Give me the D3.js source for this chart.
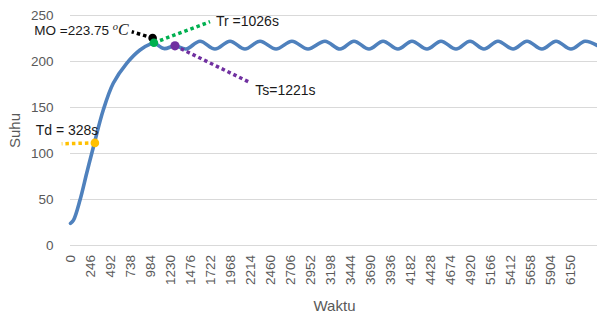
<!DOCTYPE html>
<html><head><meta charset="utf-8">
<script src="https://cdn.jsdelivr.net/npm/d3@7"></script>
<style>body{margin:0;background:#fff}svg{display:block}</style>
</head><body><svg id="c" width="597" height="318"></svg>
<script>
// ---- data ----
const waktu = [0,37,117,199,280,403,526,691,855,999,1026,1150,1285,1421,1593,1777,1962,2146,2331,2528,2724,2921,3130,3315,3487,3672,3844,4028,4200,4385,4557,4742,4914,5086,5258,5443,5615,5799,5972,6156,6328,6476];
const suhu  = [23.5,27,48.9,78,106,146.7,175.8,197.5,212,219.2,219.8,213.5,216.5,213,221.5,213,221.5,213,221.5,213,221.5,213,221.5,213,221.5,213,221.5,213,221.5,213,221.5,213,221.5,213,221.5,213,221.5,213,221.5,213,221.5,217];
const xTickLabels = [0,246,492,738,984,1230,1476,1722,1968,2214,2460,2706,2952,3198,3444,3690,3936,4182,4428,4674,4920,5166,5412,5658,5904,6150];
const yTickLabels = [0,50,100,150,200,250];

// annotation points: marker (t,v), line other end (t2,v2)
const annNames  = ["MO","Tr","Ts","Td"];
const annText   = ["MO =223.75 ","Tr =1026s","Ts=1221s","Td = 328s"];
const annT      = [1010,1026,1285,300];
const annV      = [225,219.8,216.5,111];
const annT2     = [753,1716,2187,-108];
const annV2     = [231.8,242.7,177.5,110];
const annColor  = ["#000000","#00b050","#7030a0","#ffc000"];

// ---- layout ----
const svg = d3.select("#c");
const x = d3.scaleLinear().domain([0,6476]).range([70.5,597]);
const y = d3.scaleLinear().domain([0,250]).range([245,15]);
const FONT = "Liberation Sans, Arial, sans-serif";

// gridlines
svg.append("g").selectAll("line").data(yTickLabels).join("line")
  .attr("x1",70).attr("x2",597)
  .attr("y1",d=>y(d)+0.5).attr("y2",d=>y(d)+0.5)
  .attr("stroke","#d9d9d9").attr("stroke-width",1);

// y labels
svg.append("g").selectAll("text").data(yTickLabels).join("text")
  .attr("x",53.5).attr("y",d=>y(d)).attr("dy","0.35em")
  .attr("text-anchor","end")
  .attr("font-family",FONT)
  .attr("font-size",13.5).attr("fill","#595959")
  .text(d=>d);

// x labels (rotated)
svg.append("g").selectAll("text").data(xTickLabels).join("text")
  .attr("transform",d=>`translate(${x(d)},255) rotate(-90)`)
  .attr("text-anchor","end").attr("dy","0.35em")
  .attr("font-family",FONT)
  .attr("font-size",13.5).attr("fill","#595959")
  .text(d=>d);

// axis titles
svg.append("text").attr("x",334.5).attr("y",311).attr("text-anchor","middle")
  .attr("font-family",FONT).attr("font-size",15).attr("fill","#595959")
  .text("Waktu");
svg.append("text").attr("transform","translate(20,130.5) rotate(-90)").attr("text-anchor","middle")
  .attr("font-family",FONT).attr("font-size",15).attr("fill","#595959")
  .text("Suhu");

// line
svg.append("clipPath").attr("id","clp").append("rect").attr("x",60).attr("y",0).attr("width",537).attr("height",318);
const pts = waktu.map((t,i)=>[t,suhu[i]]);
svg.append("path").datum(pts)
  .attr("clip-path","url(#clp)")
  .attr("fill","none").attr("stroke","#4f81bd").attr("stroke-width",3.6)
  .attr("stroke-linecap","round").attr("stroke-linejoin","round")
  .attr("d",d3.line().x(d=>x(d[0])).y(d=>y(d[1])).curve(d3.curveCatmullRom.alpha(0.5)));

// annotation dotted lines
const ann = annNames.map((n,i)=>({n,text:annText[i],t:annT[i],v:annV[i],t2:annT2[i],v2:annV2[i],c:annColor[i]}));
svg.append("g").selectAll("line").data(ann).join("line")
  .attr("x1",d=>x(d.t)).attr("y1",d=>y(d.v))
  .attr("x2",d=>x(d.t2)).attr("y2",d=>y(d.v2))
  .attr("stroke",d=>d.c).attr("stroke-width",3.5)
  .attr("stroke-dasharray","3.5,3");

// markers
svg.append("g").selectAll("circle").data(ann).join("circle")
  .attr("cx",d=>x(d.t)).attr("cy",d=>y(d.v)).attr("r",d=>d.n==="Ts"?4.6:4.3)
  .attr("fill",d=>d.c);

// labels
const off = {MO:[-3,3.3,"end"],Tr:[6,4.5,"start"],Ts:[7,13,"start"],Td:[-26,-9,"start"]};
const lab = svg.append("g").selectAll("text").data(ann).join("text")
  .attr("x",d=>x(d.t2)+off[d.n][0]).attr("y",d=>y(d.v2)+off[d.n][1])
  .attr("text-anchor",d=>off[d.n][2])
  .attr("font-family",FONT)
  .attr("font-size",d=>d.n==="MO"?13.5:14).attr("fill","#1a1a1a");
lab.append("tspan").text(d=>d.text);
lab.filter(d=>d.n==="MO").append("tspan")
  .attr("font-family","Liberation Serif, Times New Roman, serif").attr("font-style","italic")
  .attr("font-size",10.5).attr("dy",-5).text("o");
lab.filter(d=>d.n==="MO").append("tspan")
  .attr("font-family","Liberation Serif, Times New Roman, serif").attr("font-style","italic")
  .attr("font-size",16).attr("dy",5).text("C");
</script></body></html>
